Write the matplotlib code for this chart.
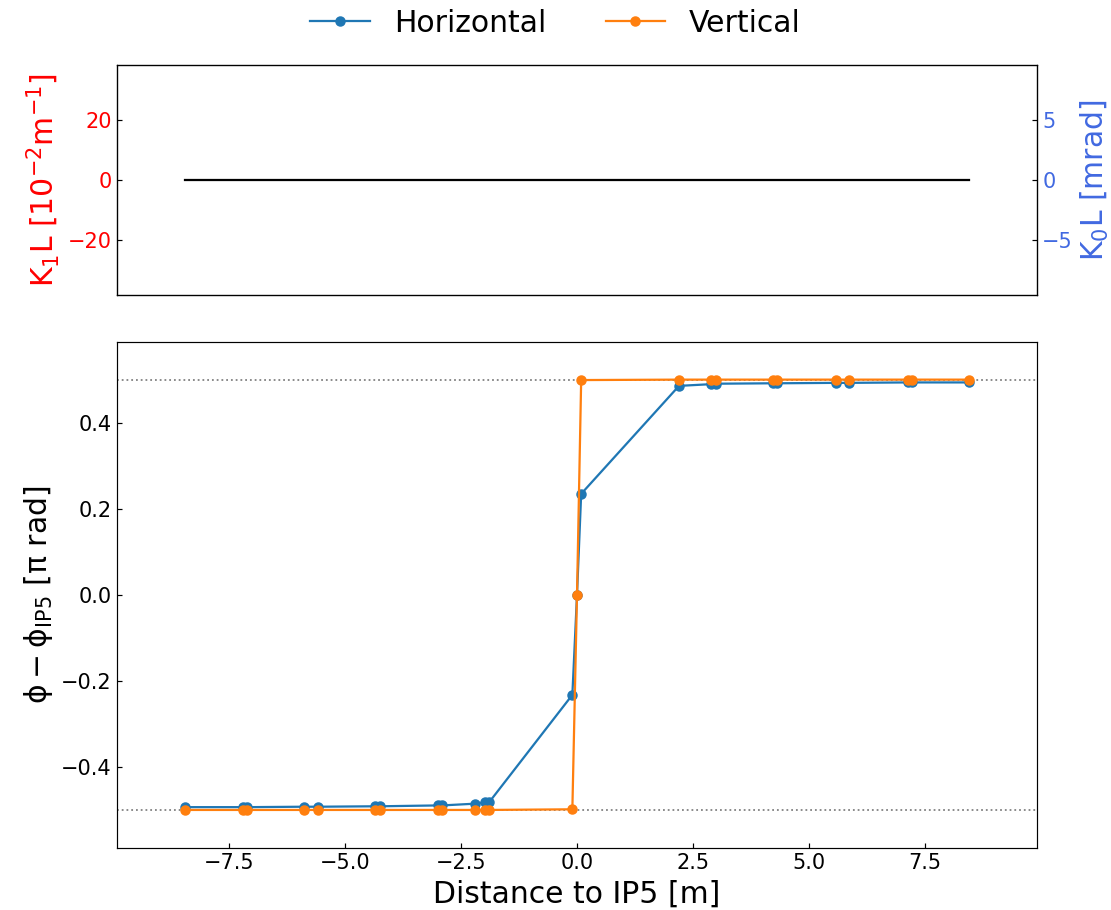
import matplotlib
matplotlib.use('Agg')
import matplotlib.pyplot as plt
import numpy as np

plt.rcParams['mathtext.default'] = 'regular'

# positions along the beamline [m]
s = [-8.45, -7.20, -7.11, -5.88, -5.58, -4.35, -4.25, -3.00, -2.91, -2.21, -1.98, -1.89,
     -0.10, 0.0, 0.09, 2.20, 2.90, 2.99, 4.22, 4.31, 5.58, 5.86, 7.13, 7.22, 8.45]

# phase advance relative to IP5 [pi rad]
phase_h = [-0.493, -0.493, -0.493, -0.492, -0.492, -0.491, -0.491, -0.489, -0.489, -0.485, -0.482, -0.481,
           -0.232, 0.0, 0.235, 0.486, 0.490, 0.491, 0.492, 0.492, 0.493, 0.493, 0.494, 0.494, 0.494]
phase_v = [-0.4995] * 12 + [-0.498, 0.0, 0.4995] + [0.5005] * 10

# magnet strengths (all zero here)
k_s = [-8.45, 8.45]
k1l = [0.0, 0.0]

dpi = 107.5
fig = plt.figure(figsize=(1111 / dpi, 910 / dpi), dpi=dpi)
ax1 = fig.add_axes([0.1053, 0.6758, 0.8281, 0.2528])
ax2 = fig.add_axes([0.1053, 0.0681, 0.8281, 0.5561], sharex=ax1)

#%% top panel
ax1.plot(k_s, k1l, '-', color='black', lw=1.5)
ax1.set_ylim(-38.5, 38.5)
ax1.set_ylabel(r'K$_1$L [10$^{-2}$m$^{-1}$]', color='red', fontsize=20)
ax1.tick_params(axis='y', colors='black', labelcolor='red', direction='in', labelsize=14)
ax1.tick_params(axis='x', bottom=False, labelbottom=False)
ax1.set_yticks([-20, 0, 20])

ax1r = ax1.twinx()
ax1r.set_ylim(-9.6, 9.6)
ax1r.set_yticks([-5, 0, 5])
ax1r.set_ylabel(r'K$_0$L [mrad]', color='royalblue', fontsize=20)
ax1r.tick_params(axis='y', colors='black', labelcolor='royalblue', direction='in', labelsize=14)

#%% bottom panel
ax2.axhline(0.5, color='gray', ls=':', lw=1.2)
ax2.axhline(-0.5, color='gray', ls=':', lw=1.2)
ax2.plot(s, phase_h, 'o-', color='tab:blue', label='Horizontal')
ax2.plot(s, phase_v, 'o-', color='tab:orange', label='Vertical')
ax2.set_xlim(-9.92, 9.92)
ax2.set_ylim(-0.588, 0.588)
ax2.set_xticks([-7.5, -5.0, -2.5, 0.0, 2.5, 5.0, 7.5])
ax2.set_yticks([-0.4, -0.2, 0.0, 0.2, 0.4])
ax2.tick_params(direction='in', labelsize=14)
ax2.set_xlabel('Distance to IP5 [m]', fontsize=20)
ax2.set_ylabel(r'$\phi - \phi_{IP5}$ [$\pi$ rad]', fontsize=20)

fig.legend(*ax2.get_legend_handles_labels(), loc='upper center', ncol=2, frameon=False,
           fontsize=20, bbox_to_anchor=(0.5, 1.02))

plt.savefig('out.png')
